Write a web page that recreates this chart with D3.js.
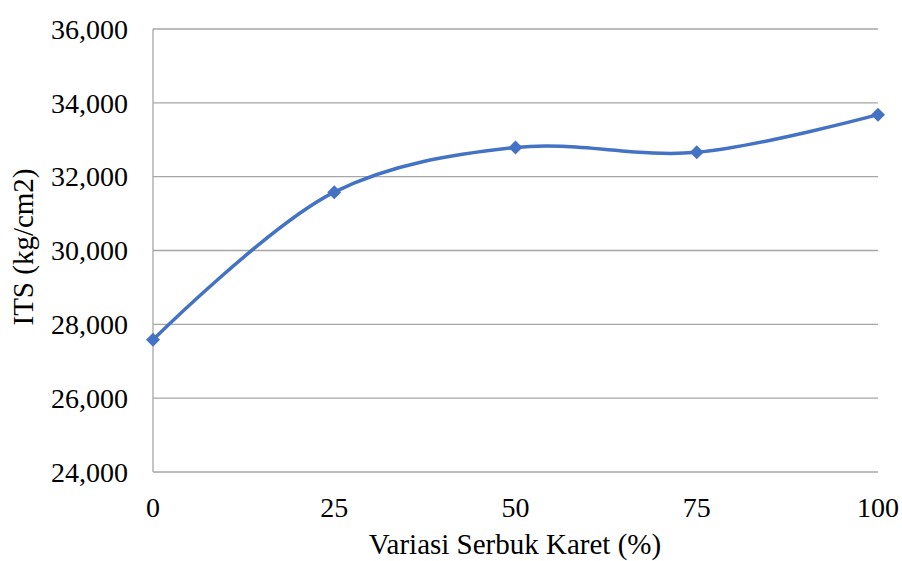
<!DOCTYPE html>
<html>
<head>
<meta charset="utf-8">
<script src="https://cdn.jsdelivr.net/npm/d3@7"></script>
<style>
  body { margin: 0; background: #fff; }
  svg text { font-family: "Liberation Serif", "Times New Roman", serif; fill: #000; }
</style>
</head>
<body>
<div id="chart"></div>
<script>
// data
var categories = [0, 25, 50, 75, 100];
var itsValues = [27580, 31580, 32790, 32660, 33680];
var yTicks = [24000, 26000, 28000, 30000, 32000, 34000, 36000];

var width = 902, height = 561;
var margin = {left: 153, right: 24, top: 29, bottom: 89};

var svg = d3.select('#chart').append('svg')
  .attr('width', width)
  .attr('height', height);

var x = d3.scaleLinear()
  .domain([0, 100])
  .range([margin.left, width - margin.right]);

var y = d3.scaleLinear()
  .domain([24000, 36000])
  .range([height - margin.bottom, margin.top]);

var fmt = d3.format(',');

// gridlines
svg.append('g')
  .selectAll('line')
  .data(yTicks)
  .enter().append('line')
  .attr('x1', x(0))
  .attr('x2', x(100))
  .attr('y1', function (d) { return y(d); })
  .attr('y2', function (d) { return y(d); })
  .style('stroke', '#a6a6a6')
  .style('stroke-width', 1.3);

// left axis line
svg.append('line')
  .attr('x1', x(0)).attr('x2', x(0))
  .attr('y1', y(36000)).attr('y2', y(24000))
  .style('stroke', '#a6a6a6')
  .style('stroke-width', 1.3);

// y tick labels
svg.append('g')
  .selectAll('text')
  .data(yTicks)
  .enter().append('text')
  .attr('x', x(0) - 25)
  .attr('y', function (d) { return y(d); })
  .attr('dy', '0.35em')
  .attr('text-anchor', 'end')
  .style('font-size', '28px')
  .text(function (d) { return fmt(d); });

// x tick labels
svg.append('g')
  .selectAll('text')
  .data(categories)
  .enter().append('text')
  .attr('x', function (d) { return x(d); })
  .attr('y', 517)
  .attr('text-anchor', 'middle')
  .style('font-size', '28px')
  .text(function (d) { return d; });

// axis titles
svg.append('text')
  .attr('x', 515)
  .attr('y', 554)
  .attr('text-anchor', 'middle')
  .style('font-size', '29px')
  .text('Variasi Serbuk Karet (%)');

svg.append('text')
  .attr('transform', 'translate(33,247) rotate(-90)')
  .attr('text-anchor', 'middle')
  .style('font-size', '29px')
  .text('ITS (kg/cm2)');

// series
var points = categories.map(function (c, i) { return {x: c, y: itsValues[i]}; });

var line = d3.line()
  .x(function (d) { return x(d.x); })
  .y(function (d) { return y(d.y); })
  .curve(d3.curveCatmullRom.alpha(0.5));

svg.append('path')
  .datum(points)
  .attr('d', line)
  .style('fill', 'none')
  .style('stroke', '#4472c4')
  .style('stroke-width', 3.5);

var diamond = d3.symbol().type(d3.symbolSquare).size(98);

svg.append('g')
  .selectAll('path')
  .data(points)
  .enter().append('path')
  .attr('d', diamond)
  .attr('transform', function (d) {
    return 'translate(' + x(d.x) + ',' + y(d.y) + ') rotate(45)';
  })
  .style('fill', '#4472c4');
</script>
</body>
</html>
